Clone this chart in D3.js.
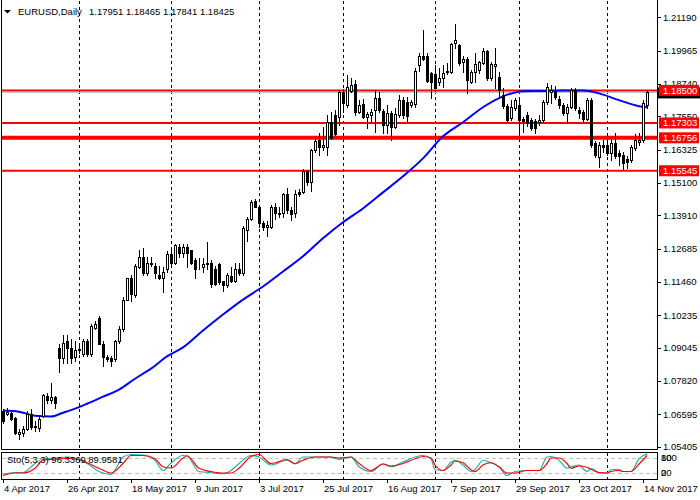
<!DOCTYPE html>
<html><head><meta charset="utf-8">
<script src="https://cdn.jsdelivr.net/npm/d3@7"></script>
<style>body{margin:0;background:#fff}svg{display:block}text{font-family:"Liberation Sans",Arial,sans-serif}</style>
</head><body><svg id="c" width="700" height="500"></svg>
<script>
// ---- data ----
const symbolTitle = "EURUSD,Daily";
const headerValues = "1.17951 1.18465 1.17841 1.18425";
const dateLabels = ["4 Apr 2017","26 Apr 2017","18 May 2017","9 Jun 2017","3 Jul 2017","25 Jul 2017","16 Aug 2017","7 Sep 2017","29 Sep 2017","23 Oct 2017","14 Nov 2017"];
const dateLabelIdx = [0,16,32,48,64,80,96,112,128,144,160];
const gridIdx = [19,42,64,85,108,129,151];
const priceTicks = [1.21190,1.19965,1.18740,1.17550,1.16325,1.15100,1.13910,1.12685,1.11460,1.10235,1.09045,1.07820,1.06595,1.05405];
const levelValues = [1.18500,1.17303,1.16756,1.15545];
const levelLabels = ["1.18500","1.17303","1.16756","1.15545"];
const levelWidths = [2,2,4,2];
const bidPrice = 1.18425;

const opens = [
1.0673,1.0662,1.0665,1.0647,1.0585,1.0592,1.0607,1.0662,1.0614,1.0610,
1.0654,1.0728,1.0710,1.0721,1.0904,1.0868,1.0930,1.0904,1.0871,1.0894,
1.0882,1.0930,1.0882,1.0978,1.1015,1.0919,1.0871,1.0868,1.0864,1.0927,
1.0974,1.1081,1.1159,1.1096,1.1202,1.1239,1.1177,1.1217,1.1206,1.1170,
1.1162,1.1195,1.1247,1.1214,1.1273,1.1251,1.1276,1.1262,1.1225,1.1206,
1.1199,1.1210,1.1217,1.1195,1.1210,1.1148,1.1133,1.1166,1.1148,1.1195,
1.1177,1.1335,1.1379,1.1442,1.1420,1.1361,1.1346,1.1346,1.1423,1.1398,
1.1398,1.1468,1.1412,1.1398,1.1475,1.1475,1.1552,1.1512,1.1630,1.1666,
1.1641,1.1641,1.1733,1.1758,1.1751,1.1843,1.1795,1.1847,1.1872,1.1769,
1.1799,1.1751,1.1758,1.1777,1.1821,1.1773,1.1722,1.1766,1.1714,1.1758,
1.1814,1.1806,1.1795,1.1799,1.1945,1.1978,1.1975,1.1913,1.1909,1.1880,
1.1894,1.1917,1.1917,1.2024,1.2016,1.1953,1.1967,1.1880,1.1917,1.1924,
1.1950,1.1994,1.1894,1.1939,1.1898,1.1832,1.1791,1.1747,1.1784,1.1795,
1.1744,1.1758,1.1740,1.1736,1.1733,1.1740,1.1806,1.1843,1.1847,1.1817,
1.1795,1.1766,1.1788,1.1850,1.1777,1.1769,1.1744,1.1814,1.1655,1.1604,
1.1648,1.1648,1.1619,1.1655,1.1619,1.1611,1.1597,1.1593,1.1637,1.1659,
1.1666,1.17951];
const highs = [
1.0680,1.0684,1.0669,1.0651,1.0607,1.0618,1.0673,1.0677,1.0636,1.0654,
1.0735,1.0739,1.0776,1.0728,1.0919,1.0952,1.0949,1.0937,1.0930,1.0916,
1.0937,1.0937,1.0993,1.1004,1.1019,1.0927,1.0879,1.0875,1.0934,1.0985,
1.1089,1.1162,1.1170,1.1210,1.1265,1.1269,1.1236,1.1236,1.1214,1.1203,
1.1199,1.1258,1.1262,1.1284,1.1284,1.1284,1.1284,1.1265,1.1232,1.1232,
1.1232,1.1291,1.1225,1.1206,1.1214,1.1151,1.1177,1.1199,1.1214,1.1214,
1.1350,1.1383,1.1446,1.1449,1.1427,1.1368,1.1368,1.1427,1.1435,1.1420,
1.1471,1.1490,1.1423,1.1482,1.1486,1.1560,1.1556,1.1633,1.1677,1.1692,
1.1714,1.1758,1.1769,1.1777,1.1850,1.1854,1.1906,1.1895,1.1887,1.1814,
1.1817,1.1769,1.1781,1.1850,1.1843,1.1781,1.1795,1.1773,1.1784,1.1832,
1.1825,1.1825,1.1814,1.1931,1.1986,1.2071,1.1986,1.1917,1.1942,1.1931,
1.1942,1.1950,1.2024,1.2093,1.2020,1.1975,1.1971,1.1924,1.1986,1.1957,
1.2005,1.1997,1.1953,1.2005,1.1917,1.1858,1.1799,1.1814,1.1821,1.1814,
1.1751,1.1769,1.1747,1.1744,1.1758,1.1814,1.1876,1.1869,1.1865,1.1828,
1.1803,1.1799,1.1858,1.1858,1.1788,1.1777,1.1821,1.1821,1.1663,1.1659,
1.1666,1.1666,1.1674,1.1692,1.1630,1.1622,1.1608,1.1648,1.1688,1.1692,
1.1814,1.18465];
const lows = [
1.0629,1.0658,1.0640,1.0588,1.0570,1.0581,1.0603,1.0607,1.0599,1.0599,
1.0651,1.0702,1.0702,1.0684,1.0816,1.0849,1.0849,1.0849,1.0857,1.0886,
1.0875,1.0875,1.0875,1.0974,1.0916,1.0838,1.0857,1.0838,1.0857,1.0923,
1.0967,1.1078,1.1074,1.1092,1.1198,1.1170,1.1173,1.1203,1.1162,1.1155,
1.1107,1.1181,1.1203,1.1210,1.1236,1.1236,1.1199,1.1210,1.1159,1.1195,
1.1181,1.1195,1.1126,1.1133,1.1137,1.1114,1.1126,1.1144,1.1144,1.1173,
1.1173,1.1298,1.1372,1.1420,1.1346,1.1335,1.1313,1.1343,1.1379,1.1383,
1.1383,1.1398,1.1372,1.1383,1.1460,1.1471,1.1501,1.1479,1.1622,1.1611,
1.1630,1.1611,1.1670,1.1685,1.1722,1.1769,1.1788,1.1843,1.1758,1.1766,
1.1747,1.1711,1.1733,1.1696,1.1769,1.1692,1.1692,1.1666,1.1711,1.1751,
1.1747,1.1736,1.1788,1.1788,1.1920,1.1960,1.1880,1.1821,1.1858,1.1869,
1.1861,1.1909,1.1913,1.2005,1.1942,1.1917,1.1839,1.1876,1.1880,1.1913,
1.1946,1.1887,1.1887,1.1858,1.1821,1.1784,1.1736,1.1740,1.1777,1.1696,
1.1696,1.1718,1.1703,1.1692,1.1722,1.1733,1.1799,1.1803,1.1817,1.1784,
1.1758,1.1729,1.1784,1.1777,1.1747,1.1736,1.1740,1.1641,1.1604,1.1567,
1.1622,1.1611,1.1593,1.1600,1.1575,1.1560,1.1564,1.1586,1.1630,1.1648,
1.1659,1.17841];
const closes = [
1.0636,1.0669,1.0643,1.0592,1.0596,1.0607,1.0662,1.0614,1.0618,1.0643,
1.0732,1.0710,1.0721,1.0699,1.0868,1.0923,1.0904,1.0868,1.0894,1.0901,
1.0930,1.0882,1.0985,1.0993,1.0919,1.0871,1.0864,1.0857,1.0930,1.0974,
1.1081,1.1159,1.1103,1.1206,1.1236,1.1177,1.1217,1.1210,1.1177,1.1162,
1.1184,1.1247,1.1214,1.1280,1.1251,1.1276,1.1251,1.1214,1.1195,1.1203,
1.1210,1.1217,1.1140,1.1140,1.1144,1.1133,1.1170,1.1148,1.1195,1.1177,
1.1343,1.1376,1.1438,1.1423,1.1361,1.1346,1.1354,1.1423,1.1398,1.1394,
1.1468,1.1412,1.1394,1.1468,1.1468,1.1552,1.1512,1.1630,1.1663,1.1641,
1.1648,1.1733,1.1674,1.1688,1.1843,1.1803,1.1861,1.1869,1.1769,1.1795,
1.1751,1.1762,1.1769,1.1821,1.1777,1.1722,1.1766,1.1714,1.1762,1.1814,
1.1758,1.1755,1.1806,1.1920,1.1975,1.1967,1.1883,1.1880,1.1858,1.1894,
1.1913,1.1920,1.2020,1.2035,1.1950,1.1967,1.1887,1.1917,1.1946,1.1953,
1.1994,1.1894,1.1946,1.1946,1.1850,1.1791,1.1740,1.1788,1.1814,1.1740,
1.1736,1.1729,1.1711,1.1711,1.1740,1.1806,1.1861,1.1850,1.1825,1.1795,
1.1766,1.1788,1.1850,1.1784,1.1766,1.1744,1.1814,1.1648,1.1611,1.1648,
1.1641,1.1619,1.1655,1.1608,1.1608,1.1582,1.1586,1.1641,1.1666,1.1666,
1.1803,1.18425];

const maIdx = [0,4,8,12,15,18,21,25,29,33,37,41,45,50,55,60,65,70,75,80,85,90,95,100,105,110,115,120,125,130,135,140,145,149,154,159,161];
const maVal = [1.0673,1.0669,1.0654,1.0651,1.0665,1.0680,1.0698,1.0724,1.0750,1.0790,1.0827,1.0872,1.0905,1.0967,1.1026,1.1081,1.1129,1.1184,1.1240,1.1306,1.1365,1.1416,1.1475,1.1534,1.1600,1.1681,1.1733,1.1788,1.1828,1.1847,1.1848,1.1850,1.1850,1.1839,1.1814,1.1792,1.1788];

const stochTitle = "Sto(5,3,3) 96.3369 89.9581";
const stochIdx = [0,3,5,8,10,13,16,19,21,24,27,30,32,35,38,40,42,45,46,49,52,55,57,59,62,64,67,71,73,75,78,82,84,87,89,92,95,97,100,103,105,107,108,110,112,113,115,117,118,120,122,124,126,128,131,134,136,137,139,141,142,144,146,147,149,151,152,154,155,157,159,161];
const stochK = [15,22,22,58,77,80,84,75,58,26,14,84,94,92,71,30,60,90,88,26,22,17,30,58,90,84,52,71,56,84,84,84,74,84,45,26,56,45,64,84,90,77,33,30,64,71,52,26,33,71,61,45,10,26,30,30,84,86,71,39,45,52,26,39,22,20,33,35,26,26,77,96.34];
const stochD = [10,20,20,39,71,76,78,74,61,39,20,58,90,90,77,45,40,80,89,39,26,20,20,39,86,94,58,74,58,71,84,84,80,84,58,30,56,48,58,77,86,80,52,30,52,68,61,33,26,52,61,45,20,20,30,30,58,80,80,58,39,48,43,35,22,20,26,30,26,26,56,89.96];
const stochLevels = [80,20];
const stochAxisText = ["100","80","20","0"];
const stochAxisAt = [80,80,20,20];

// ---- layout ----
const L = 1.5, R = 657.5, mainBot = 449.5, subTop = 452.5, subBot = 479.5;
const svg = d3.select("#c");
const x = d3.scaleLinear().domain([0,161]).range([3,647]);
const y = d3.scaleLinear().domain([1.05405,1.21190]).range([446.6,17.2]);
const ys = d3.scaleLinear().domain([0,100]).range([478,453]);
const px = v => Math.round(v);

svg.append("defs").call(d=>{
  d.append("clipPath").attr("id","cm").append("rect").attr("x",2).attr("y",1).attr("width",655.5).attr("height",448);
  d.append("clipPath").attr("id","cs").append("rect").attr("x",2).attr("y",453).attr("width",655.5).attr("height",26);
});

// grid
const grid = svg.append("g").attr("stroke","#000").attr("stroke-dasharray","3,3").attr("stroke-width",1);
gridIdx.forEach(k=>{
  const gx = px(x(k))+0.5;
  grid.append("line").attr("x1",gx).attr("x2",gx).attr("y1",1).attr("y2",449);
  grid.append("line").attr("x1",gx).attr("x2",gx).attr("y1",453).attr("y2",479);
});

const main = svg.append("g").attr("clip-path","url(#cm)");
main.append("line").attr("x1",2).attr("x2",657).attr("y1",px(y(bidPrice))+0.5).attr("y2",px(y(bidPrice))+0.5).attr("stroke","#c0c0c0");
levelValues.forEach((v,i)=>{
  main.append("line").attr("x1",2).attr("x2",657).attr("y1",y(v)).attr("y2",y(v)).attr("stroke","#ff0000").attr("stroke-width",levelWidths[i]);
});
main.append("path").datum(maIdx.map((k,i)=>[k,maVal[i]]))
  .attr("d",d3.line().x(d=>x(d[0])).y(d=>y(d[1])).curve(d3.curveMonotoneX))
  .attr("fill","none").attr("stroke","#0000ff").attr("stroke-width",2);
const cg = main.append("g");
opens.forEach((o,i)=>{
  const c = closes[i], h = highs[i], l = lows[i];
  const cx = px(x(i));
  cg.append("line").attr("x1",cx+0.5).attr("x2",cx+0.5).attr("y1",px(y(h))).attr("y2",px(y(l))+1).attr("stroke","#000");
  const top = px(y(Math.max(o,c))), bot = px(y(Math.min(o,c)));
  const bull = c >= o;
  cg.append("rect").attr("x",cx-0.5).attr("y",top+0.5).attr("width",2).attr("height",Math.max(bot-top,0))
    .attr("fill",bull?"#fff":"#000").attr("stroke","#000").attr("stroke-width",1);
});

// frames
const fr = svg.append("g").attr("stroke","#000").attr("fill","none");
fr.append("line").attr("x1",L).attr("x2",L).attr("y1",0).attr("y2",mainBot);
fr.append("line").attr("x1",R).attr("x2",R).attr("y1",0).attr("y2",mainBot);
fr.append("line").attr("x1",L).attr("x2",R).attr("y1",mainBot).attr("y2",mainBot);
fr.append("rect").attr("x",L).attr("y",subTop).attr("width",R-L).attr("height",subBot-subTop);

// price axis
const ax = svg.append("g").attr("font-size","9.5px").attr("fill","#000");
priceTicks.forEach(v=>{
  const ty = px(y(v))+0.5;
  svg.append("line").attr("x1",658).attr("x2",661).attr("y1",ty).attr("y2",ty).attr("stroke","#000");
  ax.append("text").attr("x",663).attr("y",y(v)).attr("dy","0.35em").text(d3.format(".5f")(v));
});
const by = y(bidPrice);
svg.append("rect").attr("x",658).attr("y",by-5).attr("width",42).attr("height",11).attr("fill","#000");
levelValues.forEach((v,i)=>{
  const ly = y(v);
  svg.append("rect").attr("x",659).attr("y",ly-5.5).attr("width",40).attr("height",11).attr("fill","#ff0000");
  svg.append("text").attr("x",663).attr("y",ly).attr("dy","0.35em").attr("font-size","9.5px").attr("fill","#fff").text(levelLabels[i]);
});

// stochastic
const sg = svg.append("g").attr("clip-path","url(#cs)");
stochLevels.forEach(v=>{
  sg.append("line").attr("x1",2).attr("x2",657).attr("y1",px(ys(v))+0.5).attr("y2",px(ys(v))+0.5)
    .attr("stroke","#c0c0c0").attr("stroke-dasharray","4,3");
});
const sl = d3.line().x(d=>x(d[0])).y(d=>ys(d[1])).curve(d3.curveMonotoneX);
sg.append("path").datum(stochIdx.map((k,i)=>[k,stochK[i]])).attr("d",sl).attr("fill","none").attr("stroke","#20b2aa").attr("stroke-width",1.2);
sg.append("path").datum(stochIdx.map((k,i)=>[k,stochD[i]])).attr("d",sl).attr("fill","none").attr("stroke","#ff0000").attr("stroke-width",1.2);
svg.append("text").attr("x",7).attr("y",463).attr("font-size","9.5px").text(stochTitle);
stochAxisText.forEach((t,i)=>{
  svg.append("text").attr("x",661).attr("y",ys(stochAxisAt[i])).attr("dy","0.35em").attr("font-size","9.5px").text(t);
});

// date axis
dateLabelIdx.forEach((k,i)=>{
  const dx = px(x(k))+0.5;
  svg.append("line").attr("x1",dx).attr("x2",dx).attr("y1",480).attr("y2",483).attr("stroke","#000");
  svg.append("text").attr("x",x(k)+1).attr("y",492).attr("font-size","9.5px").text(dateLabels[i]);
});

// header
svg.append("path").attr("d","M4,10L11,10L7.5,13.5Z").attr("fill","#000");
svg.append("text").attr("x",18).attr("y",15).attr("font-size","9.5px").text(symbolTitle);
svg.append("text").attr("x",89).attr("y",15).attr("font-size","9.5px").text(headerValues);
</script></body></html>
